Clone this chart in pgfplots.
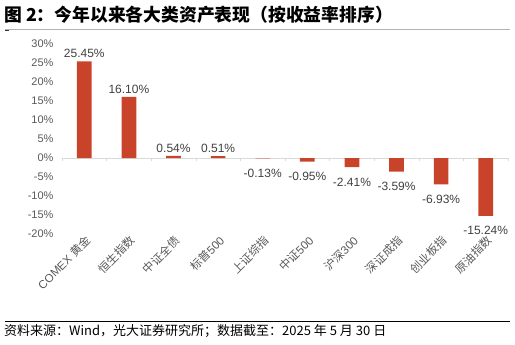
\documentclass[border=0pt]{standalone}
\usepackage{pgfplots}
\pgfplotsset{compat=1.18}
\usepackage{pgfplotstable}
\usepackage{fontspec}
\setmainfont{Liberation Sans}
\newfontfamily\cjk{Noto Sans CJK SC}
\definecolor{barc}{HTML}{C8432A}
\definecolor{tickc}{HTML}{595959}
\definecolor{labc}{HTML}{404040}
\pgfplotstableread{
idx val
0 25.45
1 16.10
2 0.54
3 0.51
4 -0.13
5 -0.95
6 -2.41
7 -3.59
8 -6.93
9 -15.24
}\datatable
\begin{document}
\begin{tikzpicture}[x=1bp,y=1bp]
\path[use as bounding box] (0,0) rectangle (515,344);
\node[anchor=west,inner sep=0] at (4,329) {\cjk\bfseries\fontsize{17.8bp}{20bp}\selectfont 图 2：今年以来各大类资产表现（按收益率排序）};
\draw[gray!60,line width=0.6bp] (5,314.5) -- (510,314.5);
\draw[black!80,line width=1.2bp] (5,313.5) -- (9,313.5);
\draw[black,line width=0.6bp] (5,22.5) -- (510,22.5);
\node[anchor=west,inner sep=0] at (4,13) {\cjk\fontsize{13bp}{15bp}\selectfont 资料来源：Wind，光大证券研究所；数据截至：2025 年 5 月 30 日};
\begin{axis}[
  at={(62bp,110bp)}, anchor=south west,
  scale only axis, width=446bp, height=190bp,
  xmin=-0.5, xmax=9.5, ymin=-20, ymax=30,
  ytick={-20,-15,...,30},
  xtick={0,...,9},
  xticklabels={COMEX {\cjk 黄金},{\cjk 恒生指数},{\cjk 中证全债},{\cjk 标普}500,{\cjk 上证综指},{\cjk 中证}500,{\cjk 沪深}300,{\cjk 深证成指},{\cjk 创业板指},{\cjk 原油指数}},
  axis line style={draw=none},
  major tick length=0pt,
  /pgf/number format/assume math mode=true,
  yticklabel={\pgfmathprintnumber{\tick}\%},
  yticklabel style={font=\fontsize{11bp}{13bp}\selectfont, text=tickc, anchor=east, xshift=-5bp},
  xticklabel style={font=\fontsize{11.5bp}{13bp}\selectfont, text=tickc, rotate=45, anchor=east, yshift=-6bp, xshift=3bp},
  ybar, bar width=14.7bp,
  visualization depends on={ifthenelse(\thisrow{val}<0,-7,0) \as \lshift},
  nodes near coords={\pgfmathprintnumber[fixed,fixed zerofill,precision=2]{\pgfplotspointmeta}\%},
  every node near coord/.append style={font=\fontsize{12bp}{14bp}\selectfont, text=labc, inner sep=3.5bp, yshift=\lshift bp},
  clip=false,
]
\draw[gray!30,line width=1bp] (axis cs:-0.5,0) -- (axis cs:9.5,0);
\pgfplotsinvokeforeach{-0.5,0.5,1.5,2.5,3.5,4.5,5.5,6.5,7.5,8.5,9.5}{\draw[gray!30,line width=0.6bp] (axis cs:#1,0) -- (axis cs:#1,-0.9);}
\addplot[fill=barc, draw=none] table[x=idx,y=val] {\datatable};
\end{axis}
\end{tikzpicture}
\end{document}
